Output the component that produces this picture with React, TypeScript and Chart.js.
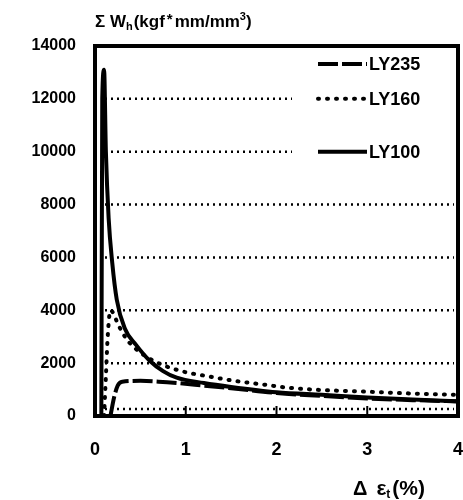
import React, { useEffect, useRef } from "react";
import { Chart, registerables } from "chart.js";
Chart.register(...registerables);

const FONT = "'Liberation Sans', Arial, sans-serif";

const xTickValues = [0, 1, 2, 3, 4];
const yTickValues = [0, 2000, 4000, 6000, 8000, 10000, 12000, 14000];
const gridValues = [2000, 4000, 6000, 8000, 10000, 12000];

const seriesNames = ["LY235", "LY160", "LY100"];

const ly235X = [0.17, 0.21, 0.25, 0.3, 0.5, 0.7, 0.9, 1.2, 1.5, 2.0, 2.5, 3.0, 3.5, 4.0];
const ly235Y = [0, 700, 1150, 1300, 1330, 1300, 1250, 1150, 1050, 870, 760, 660, 600, 550];

const ly160X = [0.1, 0.12, 0.14, 0.17, 0.2, 0.25, 0.35, 0.5, 0.7, 0.95, 1.25, 1.5, 1.9, 2.1, 2.4, 3.0, 3.5, 4.0];
const ly160Y = [0, 1500, 3000, 4000, 3900, 3500, 2900, 2400, 2000, 1700, 1500, 1350, 1170, 1080, 1000, 920, 850, 800];

const ly100X = [0.07, 0.08, 0.1, 0.12, 0.15, 0.19, 0.24, 0.33, 0.45, 0.6, 0.75, 0.9, 1.2, 1.5, 2.0, 2.5, 3.0, 3.5, 4.0];
const ly100Y = [0, 12000, 13100, 10000, 7500, 5800, 4400, 3300, 2700, 2100, 1700, 1450, 1250, 1100, 900, 800, 700, 620, 560];

const toPts = (xs: number[], ys: number[]) => xs.map((x, i) => ({ x, y: ys[i] }));

const dashes: Record<string, number[]> = {
  LY235: [20, 4],
  LY160: [1, 8],
  LY100: [],
};

const decorPlugin = {
  id: "decor",
  beforeDatasetsDraw(chart: any) {
    const { ctx, chartArea } = chart;
    const ys = chart.scales.y;
    const xs = chart.scales.x;
    ctx.save();
    ctx.strokeStyle = "#000";
    ctx.lineWidth = 2.5;
    ctx.setLineDash([2, 4]);
    gridValues.forEach((v) => {
      const y = ys.getPixelForValue(v);
      ctx.beginPath();
      ctx.moveTo(chartArea.left + 10, y);
      ctx.lineTo(chartArea.right - 4, y);
      ctx.stroke();
    });
    const yb = ys.getPixelForValue(0) - 7;
    ctx.beginPath();
    ctx.moveTo(chartArea.left + 10, yb);
    ctx.lineTo(chartArea.right - 4, yb);
    ctx.stroke();
    ctx.setLineDash([]);
    // legend background
    ctx.fillStyle = "#fff";
    ctx.fillRect(292, chartArea.top + 3, chartArea.right - 295, 124);
    // inner tick marks on x axis
    ctx.lineWidth = 2;
    xTickValues.slice(1, -1).forEach((v) => {
      const x = xs.getPixelForValue(v);
      ctx.beginPath();
      ctx.moveTo(x, chartArea.bottom);
      ctx.lineTo(x, chartArea.bottom - 10);
      ctx.stroke();
    });
    ctx.restore();
  },
  afterDatasetsDraw(chart: any) {
    const { ctx, chartArea } = chart;
    const ys = chart.scales.y;
    ctx.save();
    ctx.strokeStyle = "#000";
    ctx.lineWidth = 4;
    ctx.setLineDash([]);
    ctx.strokeRect(chartArea.left, chartArea.top, chartArea.right - chartArea.left, chartArea.bottom - chartArea.top);
    // legend
    const rows = [64, ys.getPixelForValue(12000), ys.getPixelForValue(10000)];
    seriesNames.forEach((name, i) => {
      const y = rows[i];
      ctx.lineWidth = 4;
      ctx.lineCap = name === "LY160" ? "round" : "butt";
      ctx.setLineDash(dashes[name]);
      ctx.beginPath();
      ctx.moveTo(318, y);
      ctx.lineTo(367, y);
      ctx.stroke();
      ctx.setLineDash([]);
      ctx.fillStyle = "#000";
      ctx.font = `bold 18px ${FONT}`;
      ctx.textBaseline = "middle";
      ctx.textAlign = "left";
      ctx.fillText(name, 369, y + 1);
    });
    // y title
    ctx.textBaseline = "alphabetic";
    ctx.fillStyle = "#000";
    let x = 95;
    const yt = 27;
    const put = (t: string, size: number, dy: number, gap = 0) => {
      ctx.font = `bold ${size}px ${FONT}`;
      ctx.fillText(t, x, yt + dy);
      x += ctx.measureText(t).width + gap;
    };
    put("Σ W", 17, 0);
    put("h", 11, 3, 1);
    put("(kgf", 17, 0, 2);
    put("*", 15, -3, 2);
    put("mm/mm", 17, 0);
    put("3", 11, -7);
    put(")", 17, 0);
    // x title
    x = 353;
    const yx = 495;
    const put2 = (t: string, size: number, dy: number, gap = 0) => {
      ctx.font = `bold ${size}px ${FONT}`;
      ctx.fillText(t, x, yx + dy);
      x += ctx.measureText(t).width + gap;
    };
    put2("Δ", 20, 0, 9);
    put2("ε", 21, 0);
    put2("t", 12, 3, 2);
    put2("(%)", 21, 0);
    ctx.restore();
  },
};

export default function App() {
  const ref = useRef<HTMLCanvasElement>(null);
  useEffect(() => {
    if (!ref.current) return;
    const mk = (name: string, xs: number[], ys: number[]) => ({
      label: name,
      data: toPts(xs, ys),
      borderColor: "#000",
      backgroundColor: "#000",
      borderWidth: 4,
      borderDash: dashes[name],
      borderCapStyle: name === "LY160" ? "round" : "butt",
      pointRadius: 0,
      cubicInterpolationMode: "monotone",
      fill: false,
    });
    const chart = new Chart(ref.current, {
      type: "line",
      data: {
        datasets: [
          mk("LY235", ly235X, ly235Y),
          mk("LY160", ly160X, ly160Y),
          mk("LY100", ly100X, ly100Y),
        ] as any,
      },
      options: {
        animation: false,
        responsive: false,
        devicePixelRatio: 1,
        layout: { padding: { top: 46, right: 5, left: 0, bottom: 0 } },
        plugins: { legend: { display: false }, tooltip: { enabled: false } },
        scales: {
          x: {
            type: "linear",
            min: 0,
            max: 4,
            afterBuildTicks: (s: any) => {
              s.ticks = xTickValues.map((v) => ({ value: v }));
            },
            afterFit: (s: any) => {
              s.height = 84;
              s.paddingLeft = 0;
              s.paddingRight = 0;
            },
            ticks: {
              color: "#000",
              font: { family: FONT, size: 18, weight: "bold" },
              padding: 23,
              maxRotation: 0,
              callback: (v: any) => String(v),
            },
            grid: { display: false, drawTicks: false },
            border: { display: false },
          },
          y: {
            type: "linear",
            min: 0,
            max: 14000,
            afterBuildTicks: (s: any) => {
              s.ticks = yTickValues.map((v) => ({ value: v }));
            },
            afterFit: (s: any) => {
              s.width = 95;
              s.paddingTop = 0;
              s.paddingBottom = 0;
            },
            ticks: {
              color: "#000",
              font: { family: FONT, size: 16, weight: "bold" },
              padding: 19,
              callback: (v: any) => String(v),
            },
            grid: { display: false, drawTicks: false },
            border: { display: false },
          },
        },
      } as any,
      plugins: [decorPlugin],
    });
    return () => chart.destroy();
  }, []);
  return (
    <div style={{ position: "absolute", left: 0, top: 0, width: 463, height: 500, background: "#fff" }}>
      <canvas ref={ref} width={463} height={500} />
    </div>
  );
}
